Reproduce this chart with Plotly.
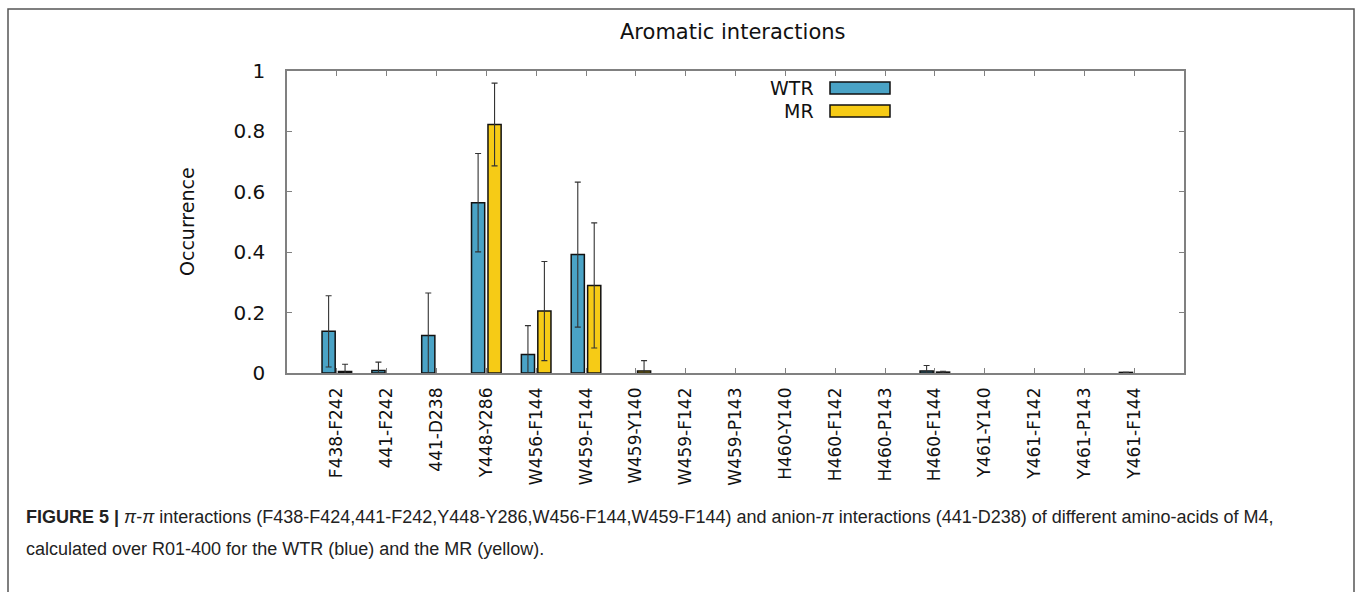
import plotly.graph_objects as go

categories = ["F438-F242", "441-F242", "441-D238", "Y448-Y286", "W456-F144", "W459-F144",
              "W459-Y140", "W459-F142", "W459-P143", "H460-Y140", "H460-F142", "H460-P143",
              "H460-F144", "Y461-Y140", "Y461-F142", "Y461-P143", "Y461-F144"]
wtr = [0.138, 0.008, 0.124, 0.564, 0.061, 0.392, 0, 0, 0, 0, 0, 0, 0.007, 0, 0, 0, 0.002]
wtr_err = [0.118, 0.028, 0.141, 0.163, 0.096, 0.240, 0, 0, 0, 0, 0, 0, 0.018, 0, 0, 0, 0]
mr = [0.005, 0, 0, 0.823, 0.205, 0.290, 0.007, 0, 0, 0, 0, 0, 0.003, 0, 0, 0, 0]
mr_err = [0.024, 0, 0, 0.137, 0.164, 0.207, 0.034, 0, 0, 0, 0, 0, 0.003, 0, 0, 0, 0]

BLUE = "#4aa3c6"
YELLOW = "#f6cb16"
FONT = "DejaVu Sans"


def nz(a):
    # zero entries are not drawn (no bar outline / no error cap)
    return [v if v > 0 else None for v in a]


fig = go.Figure()
fig.add_trace(go.Bar(name="WTR", x=categories, y=nz(wtr),
                     marker=dict(color=BLUE, line=dict(color="#111", width=1.5)),
                     error_y=dict(type="data", array=nz(wtr_err), visible=True,
                                  color="#333", thickness=1.1, width=3)))
fig.add_trace(go.Bar(name="MR", x=categories, y=nz(mr),
                     marker=dict(color=YELLOW, line=dict(color="#111", width=1.5)),
                     error_y=dict(type="data", array=nz(mr_err), visible=True,
                                  color="#333", thickness=1.1, width=3)))

L, R, T, B = 287, 1184, 71, 373
W, H = 1360, 592
pw, ph = R - L, B - T


def px(x):
    return (x - L) / pw


def py(y):
    return (B - y) / ph


shapes = [
    # outer figure frame
    dict(type="rect", xref="paper", yref="paper", x0=px(8), x1=px(1354), y0=py(640), y1=py(9),
         line=dict(color="#555", width=1.5), layer="below"),
    # legend swatches
    dict(type="rect", xref="paper", yref="paper", x0=px(830), x1=px(890), y0=py(94), y1=py(82),
         fillcolor=BLUE, line=dict(color="#111", width=1.5)),
    dict(type="rect", xref="paper", yref="paper", x0=px(830), x1=px(890), y0=py(117), y1=py(105),
         fillcolor=YELLOW, line=dict(color="#111", width=1.5)),
]

annotations = [
    dict(text="Aromatic interactions", xref="paper", yref="paper", x=px(733), y=py(32),
         showarrow=False, xanchor="center", yanchor="middle",
         font=dict(family=FONT, size=21, color="#111")),
    dict(text="Occurrence", xref="paper", yref="paper", x=px(187), y=py(222), textangle=-90,
         showarrow=False, xanchor="center", yanchor="middle",
         font=dict(family=FONT, size=19, color="#111")),
    dict(text="WTR", xref="paper", yref="paper", x=px(816), y=py(88), showarrow=False,
         xanchor="right", yanchor="middle", font=dict(family=FONT, size=19, color="#111")),
    dict(text="MR", xref="paper", yref="paper", x=px(816), y=py(111), showarrow=False,
         xanchor="right", yanchor="middle", font=dict(family=FONT, size=19, color="#111")),
    dict(text="<b>FIGURE 5 |</b> <i>π</i>-<i>π</i> interactions (F438-F424,441-F242,Y448-Y286,W456-F144,W459-F144) "
              "and anion-<i>π</i> interactions (441-D238) of different amino-acids of M4,",
         xref="paper", yref="paper", x=px(24), y=py(517), showarrow=False,
         xanchor="left", yanchor="middle", font=dict(family="Liberation Sans", size=18, color="#222")),
    dict(text="calculated over R01-400 for the WTR (blue) and the MR (yellow).",
         xref="paper", yref="paper", x=px(24), y=py(549), showarrow=False,
         xanchor="left", yanchor="middle", font=dict(family="Liberation Sans", size=18, color="#222")),
]

fig.update_layout(
    width=W, height=H,
    margin=dict(l=L, r=W - R, t=T, b=H - B, autoexpand=False),
    paper_bgcolor="white", plot_bgcolor="white",
    barmode="group", bargap=0.34, bargroupgap=0.2,
    showlegend=False,
    shapes=shapes, annotations=annotations,
    xaxis=dict(type="category", range=[-1, 17], showline=True, linecolor="#808080", linewidth=1.5,
               mirror="ticks", ticks="inside", ticklen=5, tickcolor="#808080", tickwidth=1,
               tickangle=-90, ticklabelstandoff=6, showgrid=False, zeroline=False,
               tickfont=dict(family=FONT, size=17, color="#111")),
    yaxis=dict(range=[0, 1], dtick=0.2, showline=True, linecolor="#808080", linewidth=1.5,
               mirror="ticks", ticks="inside", ticklen=5, tickcolor="#808080", tickwidth=1,
               ticklabelstandoff=16, showgrid=False, zeroline=False,
               tickfont=dict(family=FONT, size=20, color="#111")),
)

fig.write_html("out.html")
